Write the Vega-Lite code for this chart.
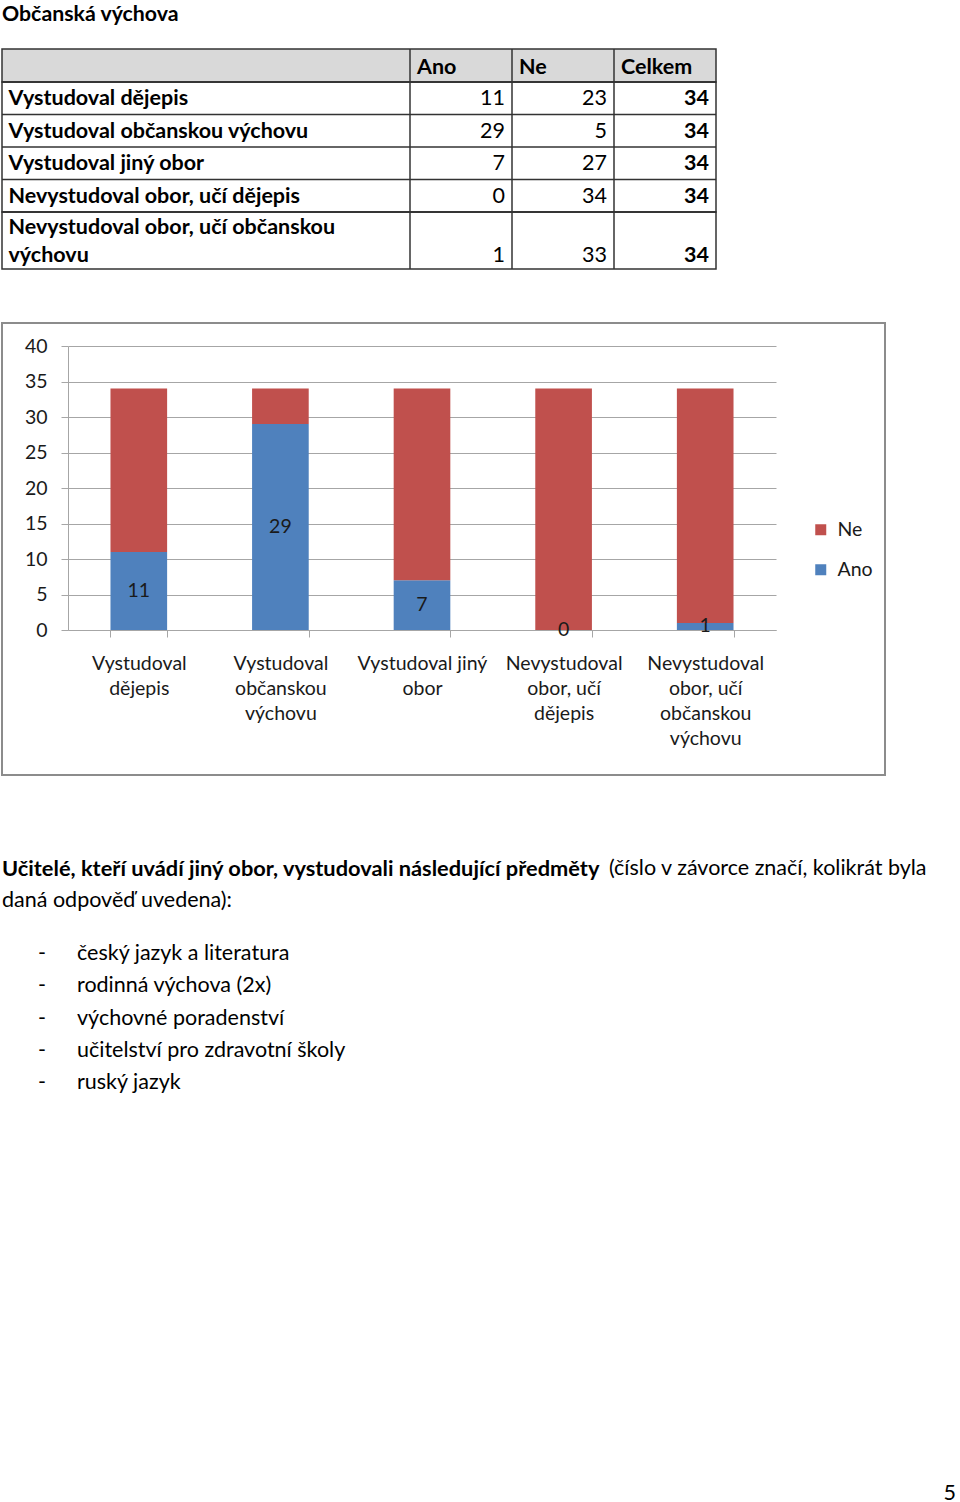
{
"$schema":"https://vega.github.io/schema/vega-lite/v6.json",
"background":"white",
"padding":{"left":0,"top":4,"right":0,"bottom":0},
"config":{"font":"Lato","view":{"stroke":null},"text":{"font":"Lato","color":"#000"},"legend":{"labelFont":"Lato"},"axis":{"labelFont":"Lato"}},
"title":{"text":"Občanská výchova","anchor":"start","frame":"group","fontSize":21.3,"fontWeight":"bold","font":"Lato","color":"#000","offset":22},
"resolve":{"legend":{"color":"independent"}},
"datasets":{
"table":[
{"row":"Vystudoval dějepis","Ano":11,"Ne":23,"Celkem":34},
{"row":"Vystudoval občanskou výchovu","Ano":29,"Ne":5,"Celkem":34},
{"row":"Vystudoval jiný obor","Ano":7,"Ne":27,"Celkem":34},
{"row":"Nevystudoval obor, učí dějepis","Ano":0,"Ne":34,"Celkem":34},
{"row":"Nevystudoval obor, učí občanskou výchovu","Ano":1,"Ne":33,"Celkem":34}
],
"cols":[{"col":"Ano"},{"col":"Ne"},{"col":"Celkem"}],
"para":[
{"line":1,"part":"lead","text":"Učitelé, kteří uvádí jiný obor, vystudovali následující předměty"},
{"line":1,"part":"note","text":"(číslo v závorce značí, kolikrát byla"},
{"line":2,"part":"note","text":"daná odpověď uvedena):"}
],
"items":[
{"item":"český jazyk a literatura"},
{"item":"rodinná výchova (2x)"},
{"item":"výchovné poradenství"},
{"item":"učitelství pro zdravotní školy"},
{"item":"ruský jazyk"}
]
},
"spacing":51,
"vconcat":[
{"spacing":0,"bounds":"flush","vconcat":[
{"width":714,"height":33,"view":{"fill":"#d9d9d9","stroke":"#333","strokeWidth":1.5},
"data":{"name":"cols"},
"layer":[
{"mark":{"type":"rule","color":"#333","strokeWidth":1.5},
"encoding":{"x":{"field":"col","type":"nominal","bandPosition":0,"scale":{"type":"band","domain":["L1","L2","L3","L4","Ano","Ne","Celkem"],"paddingInner":0,"paddingOuter":0},"axis":null}}},
{"mark":{"type":"text","align":"left","dx":7,"dy":2,"fontSize":21.5,"fontWeight":"bold","color":"#000"},
"encoding":{"x":{"field":"col","type":"nominal","bandPosition":0,"scale":{"type":"band","domain":["L1","L2","L3","L4","Ano","Ne","Celkem"],"paddingInner":0,"paddingOuter":0},"axis":null},"text":{"field":"col"}}}
]},
{"width":714,"height":130,"view":{"stroke":"#333","strokeWidth":1.5},
"data":{"name":"table"},
"transform":[{"filter":{"not":{"field":"row","equal":"Nevystudoval obor, učí občanskou výchovu"}}}],
"layer":[
{"mark":{"type":"rule","color":"#333","strokeWidth":1.5},
"encoding":{"y":{"field":"row","type":"nominal","sort":null,"bandPosition":0,"scale":{"type":"band","paddingInner":0,"paddingOuter":0},
"axis":{"title":null,"domain":false,"ticks":false,"tickSize":0,"grid":false,"labelAlign":"left","labelBaseline":"middle","labelPadding":-6,"labelOffset":1,"labelFontSize":21.5,"labelFontWeight":"bold","labelColor":"#000","labelFont":"Lato","labelLimit":0}}}},
{"data":{"name":"cols"},"mark":{"type":"rule","color":"#333","strokeWidth":1.5},
"encoding":{"x":{"field":"col","type":"nominal","bandPosition":0,"scale":{"type":"band","domain":["L1","L2","L3","L4","Ano","Ne","Celkem"],"paddingInner":0,"paddingOuter":0},"axis":null}}},
{"transform":[{"fold":["Ano","Ne"]}],"mark":{"type":"text","align":"right","dx":-7,"dy":1,"fontSize":21.5,"color":"#000"},
"encoding":{"x":{"field":"key","type":"nominal","bandPosition":1,"scale":{"type":"band","domain":["L1","L2","L3","L4","Ano","Ne","Celkem"],"paddingInner":0,"paddingOuter":0},"axis":null},
"y":{"field":"row","type":"nominal","sort":null,"scale":{"type":"band","paddingInner":0,"paddingOuter":0},
"axis":{"title":null,"domain":false,"ticks":false,"tickSize":0,"grid":false,"labelAlign":"left","labelBaseline":"middle","labelPadding":-6,"labelOffset":1,"labelFontSize":21.5,"labelFontWeight":"bold","labelColor":"#000","labelFont":"Lato","labelLimit":0}},
"text":{"field":"value","type":"quantitative"}}},
{"transform":[{"fold":["Celkem"]}],"mark":{"type":"text","align":"right","dx":-7,"dy":1,"fontSize":21.5,"fontWeight":"bold","color":"#000"},
"encoding":{"x":{"field":"key","type":"nominal","bandPosition":1,"scale":{"type":"band","domain":["L1","L2","L3","L4","Ano","Ne","Celkem"],"paddingInner":0,"paddingOuter":0},"axis":null},
"y":{"field":"row","type":"nominal","sort":null,"scale":{"type":"band","paddingInner":0,"paddingOuter":0},
"axis":{"title":null,"domain":false,"ticks":false,"tickSize":0,"grid":false,"labelAlign":"left","labelBaseline":"middle","labelPadding":-6,"labelOffset":1,"labelFontSize":21.5,"labelFontWeight":"bold","labelColor":"#000","labelFont":"Lato","labelLimit":0}},
"text":{"field":"value","type":"quantitative"}}}
]},
{"width":714,"height":57,"view":{"stroke":"#333","strokeWidth":1.5},
"data":{"name":"table"},
"transform":[{"filter":{"field":"row","equal":"Nevystudoval obor, učí občanskou výchovu"}}],
"layer":[
{"mark":{"type":"rule","color":"#333","strokeWidth":1.5},
"encoding":{"y":{"field":"row","type":"nominal","sort":null,"bandPosition":0,"scale":{"type":"band","paddingInner":0,"paddingOuter":0},
"axis":{"title":null,"domain":false,"ticks":false,"tickSize":0,"grid":false,"labelAlign":"left","labelBaseline":"middle","labelPadding":-6,"labelOffset":-13,"labelFontSize":21.5,"labelFontWeight":"bold","labelColor":"#000","labelFont":"Lato","labelLimit":0,"labelLineHeight":28,
"labelExpr":"datum.value == 'Nevystudoval obor, učí občanskou výchovu' ? ['Nevystudoval obor, učí občanskou', 'výchovu'] : datum.label"}}}},
{"data":{"name":"cols"},"mark":{"type":"rule","color":"#333","strokeWidth":1.5},
"encoding":{"x":{"field":"col","type":"nominal","bandPosition":0,"scale":{"type":"band","domain":["L1","L2","L3","L4","Ano","Ne","Celkem"],"paddingInner":0,"paddingOuter":0},"axis":null}}},
{"transform":[{"fold":["Ano","Ne"]}],"mark":{"type":"text","align":"right","dx":-7,"dy":15,"fontSize":21.5,"color":"#000"},
"encoding":{"x":{"field":"key","type":"nominal","bandPosition":1,"scale":{"type":"band","domain":["L1","L2","L3","L4","Ano","Ne","Celkem"],"paddingInner":0,"paddingOuter":0},"axis":null},
"text":{"field":"value","type":"quantitative"}}},
{"transform":[{"fold":["Celkem"]}],"mark":{"type":"text","align":"right","dx":-7,"dy":15,"fontSize":21.5,"fontWeight":"bold","color":"#000"},
"encoding":{"x":{"field":"key","type":"nominal","bandPosition":1,"scale":{"type":"band","domain":["L1","L2","L3","L4","Ano","Ne","Celkem"],"paddingInner":0,"paddingOuter":0},"axis":null},
"text":{"field":"value","type":"quantitative"}}}
]}
]},
{"width":883,"height":452,"view":{"stroke":"#8c8c8c","strokeWidth":2},
"data":{"name":"table"},
"transform":[{"fold":["Ano","Ne"],"as":["resp","n"]}],
"encoding":{"x":{"field":"row","type":"nominal","sort":null,"scale":{"type":"band","range":[66,774],"paddingInner":0.6,"paddingOuter":0.3},
"axis":{"title":null,"orient":"bottom","offset":-145,"tickBand":"extent","grid":false,"domainColor":"#a6a6a6","tickColor":"#a6a6a6","tickSize":7,"labelFontSize":19.5,"labelColor":"#1a1a1a","labelPadding":17,"labelLineHeight":25,"labelAngle":0,"labelLimit":0,"labelBaseline":"top",
"labelExpr":"datum.value == 'Vystudoval dějepis' ? ['Vystudoval', 'dějepis'] : datum.value == 'Vystudoval občanskou výchovu' ? ['Vystudoval', 'občanskou', 'výchovu'] : datum.value == 'Vystudoval jiný obor' ? ['Vystudoval jiný', 'obor'] : datum.value == 'Nevystudoval obor, učí dějepis' ? ['Nevystudoval', 'obor, učí', 'dějepis'] : datum.value == 'Nevystudoval obor, učí občanskou výchovu' ? ['Nevystudoval', 'obor, učí', 'občanskou', 'výchovu'] : ''"}}},
"layer":[
{"mark":{"type":"bar"},
"encoding":{"y":{"field":"n","type":"quantitative","stack":"zero","scale":{"domain":[0,40],"range":[307,23],"nice":false},
"axis":{"title":null,"values":[0,5,10,15,20,25,30,35,40],"offset":-66,"grid":true,"gridColor":"#a6a6a6","domainColor":"#a6a6a6","tickColor":"#a6a6a6","tickSize":7,"labelFontSize":19.5,"labelColor":"#1a1a1a","labelPadding":14}},
"color":{"field":"resp","type":"nominal","scale":{"domain":["Ne","Ano"],"range":["#c0504d","#4f81bd"]},
"legend":{"title":null,"orient":"none","legendX":809,"legendY":197,"symbolType":"square","symbolSize":121,"symbolStrokeWidth":0,"labelFontSize":19.5,"labelColor":"#1a1a1a","labelOffset":7,"rowPadding":19,"padding":0}},
"order":{"field":"resp","sort":"ascending"}}},
{"transform":[{"filter":{"field":"resp","equal":"Ano"}}],
"mark":{"type":"text","fontSize":19.5,"color":"#1a1a1a"},
"encoding":{"y":{"field":"n","type":"quantitative","stack":"zero","bandPosition":0.5,
"axis":{"title":null,"values":[0,5,10,15,20,25,30,35,40],"offset":-66,"grid":true,"gridColor":"#a6a6a6","domainColor":"#a6a6a6","tickColor":"#a6a6a6","tickSize":7,"labelFontSize":19.5,"labelColor":"#1a1a1a","labelPadding":14}},
"text":{"field":"n","type":"quantitative"}}}
]},
{"width":954,"height":677,
"layer":[
{"data":{"name":"para"},"transform":[{"filter":{"field":"part","equal":"lead"}}],
"mark":{"type":"text","align":"left","fontSize":21.8,"fontWeight":"bold"},
"encoding":{"x":{"value":0},"y":{"field":"line","type":"ordinal","scale":{"type":"point","domain":[1,2],"range":[42,74],"padding":0},"axis":null},"text":{"field":"text"}}},
{"data":{"name":"para"},"transform":[{"filter":{"field":"part","equal":"note"}},{"filter":{"field":"line","equal":1}}],
"mark":{"type":"text","align":"left","fontSize":21.5,"dx":607},
"encoding":{"x":{"value":0},"y":{"field":"line","type":"ordinal","scale":{"type":"point","domain":[1,2],"range":[42,74],"padding":0},"axis":null},"text":{"field":"text"}}},
{"data":{"name":"para"},"transform":[{"filter":{"field":"part","equal":"note"}},{"filter":{"field":"line","equal":2}}],
"mark":{"type":"text","align":"left","fontSize":21.5},
"encoding":{"x":{"value":0},"y":{"field":"line","type":"ordinal","scale":{"type":"point","domain":[1,2],"range":[42,74],"padding":0},"axis":null},"text":{"field":"text"}}},
{"data":{"name":"items"},"mark":{"type":"text","align":"left","fontSize":21.5},
"encoding":{"x":{"value":36},"y":{"field":"item","type":"nominal","sort":null,"scale":{"type":"point","range":[127,256],"padding":0},"axis":null},"text":{"value":"-"}}},
{"data":{"name":"items"},"mark":{"type":"text","align":"left","fontSize":21.5},
"encoding":{"x":{"value":75},"y":{"field":"item","type":"nominal","sort":null,"scale":{"type":"point","range":[127,256],"padding":0},"axis":null},"text":{"field":"item"}}},
{"data":{"values":[{"page":5}]},"mark":{"type":"text","align":"right","baseline":"alphabetic","dy":-4,"fontSize":21.5},
"encoding":{"x":{"value":"width"},"y":{"value":"height"},"text":{"field":"page","type":"quantitative"}}}
],
"resolve":{"scale":{"x":"independent","y":"independent"}}}
]
}
